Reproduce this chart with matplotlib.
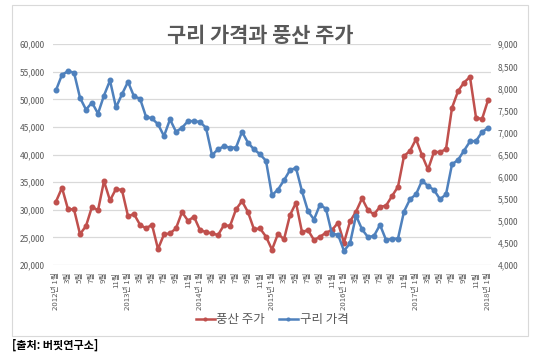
import numpy as np
import matplotlib
matplotlib.use('Agg')
import matplotlib.pyplot as plt
from matplotlib.patches import Rectangle

plt.rcParams['font.family'] = ['Noto Sans CJK KR', 'DejaVu Sans']

# monthly data, 2012-01 .. 2018-01
stock = [31500, 34000, 30100, 30100, 25600, 27060, 30560, 29900, 35200, 31700,
         33800, 33570, 28870, 29230, 27300, 26640, 27300, 22900, 25550, 25730,
         26640, 29590, 28020, 28750, 26330, 25970, 25730, 25430, 27240, 27060,
         30080, 31580, 29590, 26460, 26640, 25130, 22780, 25670, 24650, 29050,
         31280, 25970, 26330, 24520, 25130, 25850, 26330, 27660, 24040, 27900,
         29650, 32070, 29950, 29170, 30560, 30740, 32490, 34180, 39730, 40690,
         42800, 39910, 37310, 40510, 40450, 40990, 48480, 51490, 53060, 54090,
         46730, 46420, 49860]

copper = [7960, 8310, 8390, 8360, 7790, 7520, 7680, 7430, 7840, 8180,
          7570, 7870, 8150, 7820, 7770, 7360, 7320, 7190, 6920, 7300,
          7020, 7110, 7260, 7260, 7240, 7110, 6490, 6620, 6690, 6660,
          6660, 7020, 6770, 6620, 6510, 6360, 5580, 5710, 5920, 6150,
          6200, 5670, 5220, 5030, 5370, 5270, 4700, 4690, 4320, 4490,
          5120, 4810, 4630, 4660, 4910, 4570, 4590, 4600, 5210, 5490,
          5600, 5910, 5790, 5700, 5490, 5600, 6280, 6380, 6590, 6800,
          6810, 7010, 7110]

years = [2012, 2013, 2014, 2015, 2016, 2017, 2018]
labels = []
for y in years:
    for m in range(1, 13):
        if y == 2018 and m > 1:
            break
        if m == 1:
            labels.append(str(y) + '년 1월')
        else:
            labels.append(str(m) + '월')

red = '#C0504D'
blue = '#4F81BD'
gray = '#595959'

x = np.arange(len(stock))

fig = plt.figure(figsize=(5.35, 3.53), dpi=100)
ax = fig.add_axes([53 / 535, 88 / 353, 438 / 535, 220.7 / 353])
ax2 = ax.twinx()

ax.plot(x, stock, color=red, lw=1.8, marker='o', ms=3.3, label='풍산 주가')
ax2.plot(x, copper, color=blue, lw=1.8, marker='o', ms=3.3, label='구리 가격')

ax.set_xlim(-0.5, len(stock) - 0.5)
ax.set_ylim(20000, 60000)
ax.set_yticks(range(20000, 60001, 5000))
ax.set_yticklabels(['{:,}'.format(v) for v in range(20000, 60001, 5000)])
ax2.set_ylim(4000, 9000)
ax2.set_yticks(range(4000, 9001, 500))
ax2.set_yticklabels(['{:,}'.format(v) for v in range(4000, 9001, 500)])

ax.set_xticks(x[::2])
ax.set_xticklabels(labels[::2], rotation=90, va='top', ha='center')

ax.grid(axis='y', color='#D9D9D9', lw=0.9)
ax.set_axisbelow(True)
for a in (ax, ax2):
    for s in a.spines.values():
        s.set_visible(False)
ax.tick_params(axis='y', length=0, pad=5.8, labelsize=6, labelcolor=gray)
ax.tick_params(axis='x', length=0, pad=5, labelsize=5.6, labelcolor=gray)
ax2.tick_params(axis='y', length=0, pad=5, labelsize=6, labelcolor=gray)

fig.text(260 / 535, 1 - 35 / 353, '구리 가격과 풍산 주가', ha='center', va='center',
         fontsize=15, fontweight='bold', color=gray)

h1, l1 = ax.get_legend_handles_labels()
h2, l2 = ax2.get_legend_handles_labels()
fig.legend(h1 + h2, l1 + l2, loc='center', bbox_to_anchor=(272 / 535, 1 - 320 / 353),
           ncol=2, frameon=False, fontsize=9, labelcolor=gray, handlelength=1.5,
           handletextpad=0.15, columnspacing=1.1, markerscale=0.6)

fig.patches.append(Rectangle((12 / 535, 1 - 336 / 353), 516 / 535, 331 / 353,
                             transform=fig.transFigure, fill=False,
                             edgecolor='#D9D9D9', lw=0.8))

fig.text(12 / 535, 1 - 345 / 353, '[출처: 버핏연구소]', ha='left', va='center',
         fontsize=8, fontweight='bold', color='black')

plt.savefig('out.png', dpi=100)
